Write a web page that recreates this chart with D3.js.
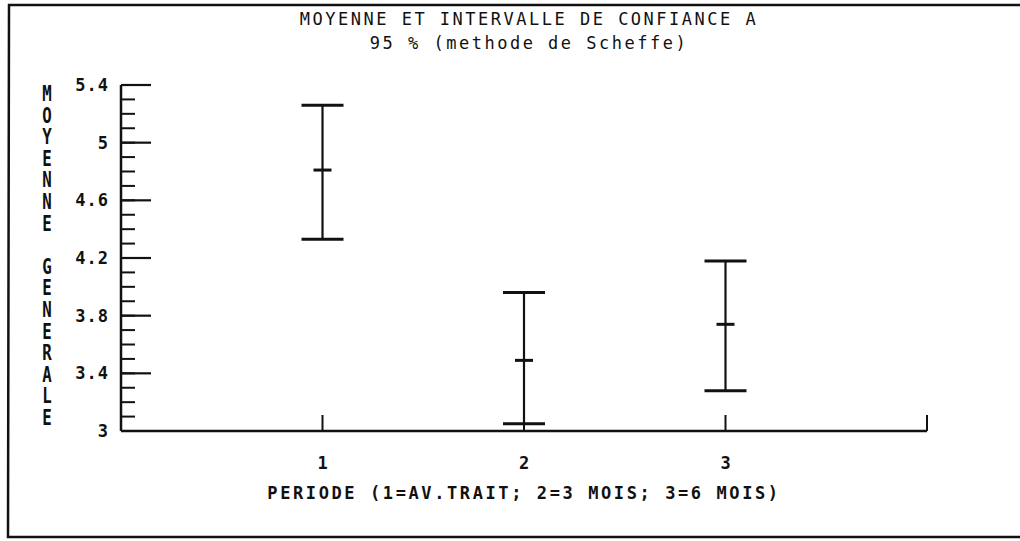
<!DOCTYPE html>
<html>
<head>
<meta charset="utf-8">
<script src="https://cdn.jsdelivr.net/npm/d3@7"></script>
<style>
  html, body { margin: 0; padding: 0; background: #fff; }
  svg { display: block; }
  text { font-family: "DejaVu Sans Mono", "Liberation Mono", monospace; fill: #111; }
</style>
</head>
<body>
<svg id="chart" width="1020" height="541"></svg>
<script>
// Periods and Scheffe 95% confidence intervals of the overall mean
const periods = [1, 2, 3];
const means = [4.81, 3.49, 3.74];
const lowers = [4.33, 3.05, 3.28];
const uppers = [5.26, 3.96, 4.18];
const yMajorTicks = [3, 3.4, 3.8, 4.2, 4.6, 5, 5.4];
const yTickLabels = ["3", "3.4", "3.8", "4.2", "4.6", "5", "5.4"];
const titleLines = ["MOYENNE ET INTERVALLE DE CONFIANCE A", "95 % (methode de Scheffe)"];
const xTitle = "PERIODE (1=AV.TRAIT; 2=3 MOIS; 3=6 MOIS)";
const yTitle = "MOYENNE GENERALE";

const svg = d3.select("#chart");
const ink = "#111";

const x = d3.scaleLinear().domain([0, 4]).range([121, 927]);
const y = d3.scaleLinear().domain([3, 5.4]).range([431, 85]);

// page frame (open on the right)
svg.append("path")
  .attr("d", "M1020,5 L9,5 L8,537 L1020,537")
  .attr("fill", "none").attr("stroke", ink).attr("stroke-width", 2.5);

// titles
svg.selectAll(".title").data(titleLines).join("text")
  .attr("class", "title")
  .attr("x", 529).attr("y", (d, i) => 25 + i * 24)
  .attr("text-anchor", "middle")
  .attr("font-size", 17)
  .attr("letter-spacing", 2.5)
  .text(d => d);

// y axis: major ticks every 0.4, minor every 0.1
const yAxis = svg.append("g");
yAxis.append("line")
  .attr("x1", x(0)).attr("x2", x(0))
  .attr("y1", y(5.4)).attr("y2", y(3))
  .attr("stroke", ink).attr("stroke-width", 2.5);
const minorTicks = d3.range(0, 25).map(i => 3 + i * 0.1);
yAxis.selectAll(".minor").data(minorTicks).join("line")
  .attr("x1", x(0)).attr("x2", x(0) + 14)
  .attr("y1", d => y(d)).attr("y2", d => y(d))
  .attr("stroke", ink).attr("stroke-width", 2);
yAxis.selectAll(".major").data(yMajorTicks.filter(d => d > 3)).join("line")
  .attr("x1", x(0)).attr("x2", x(0) + 30)
  .attr("y1", d => y(d)).attr("y2", d => y(d))
  .attr("stroke", ink).attr("stroke-width", 2.2);
yAxis.selectAll(".lab").data(yMajorTicks).join("text")
  .attr("x", 109).attr("y", d => y(d) + 6)
  .attr("text-anchor", "end")
  .attr("font-size", 17).attr("font-weight", "bold")
  .attr("letter-spacing", 1)
  .text((d, i) => yTickLabels[i]);

// x axis with small upward ticks
const xAxis = svg.append("g");
xAxis.append("line")
  .attr("x1", x(0)).attr("x2", x(4))
  .attr("y1", y(3)).attr("y2", y(3))
  .attr("stroke", ink).attr("stroke-width", 2.5);
xAxis.selectAll(".xt").data([1, 2, 3, 4]).join("line")
  .attr("x1", d => x(d)).attr("x2", d => x(d))
  .attr("y1", y(3)).attr("y2", y(3) - 16)
  .attr("stroke", ink).attr("stroke-width", 2);
xAxis.selectAll(".xl").data(periods).join("text")
  .attr("x", d => x(d)).attr("y", 469)
  .attr("text-anchor", "middle")
  .attr("font-size", 17).attr("font-weight", "bold")
  .text(d => d);

// axis titles
svg.append("text")
  .attr("x", 524).attr("y", 499)
  .attr("text-anchor", "middle")
  .attr("font-size", 17).attr("font-weight", "bold")
  .attr("letter-spacing", 2.6)
  .text(xTitle);

const yChars = yTitle.split("");
svg.append("g").selectAll("text").data(yChars).join("text")
  .attr("text-anchor", "middle")
  .attr("font-size", 21).attr("font-weight", "bold")
  .attr("transform", (d, i) => `translate(47,${101 + i * 21.6}) scale(0.75,1)`)
  .text(d => d);

// confidence intervals
const bars = svg.append("g").selectAll("g").data(periods).join("g");
bars.append("line")
  .attr("x1", d => x(d)).attr("x2", d => x(d))
  .attr("y1", (d, i) => y(uppers[i])).attr("y2", (d, i) => y(lowers[i]))
  .attr("stroke", ink).attr("stroke-width", 2.2);
bars.append("line")
  .attr("x1", d => x(d) - 21).attr("x2", d => x(d) + 21)
  .attr("y1", (d, i) => y(uppers[i])).attr("y2", (d, i) => y(uppers[i]))
  .attr("stroke", ink).attr("stroke-width", 3);
bars.append("line")
  .attr("x1", d => x(d) - 21).attr("x2", d => x(d) + 21)
  .attr("y1", (d, i) => y(lowers[i])).attr("y2", (d, i) => y(lowers[i]))
  .attr("stroke", ink).attr("stroke-width", 3);
bars.append("line")
  .attr("x1", d => x(d) - 9).attr("x2", d => x(d) + 9)
  .attr("y1", (d, i) => y(means[i])).attr("y2", (d, i) => y(means[i]))
  .attr("stroke", ink).attr("stroke-width", 3);
</script>
</body>
</html>
